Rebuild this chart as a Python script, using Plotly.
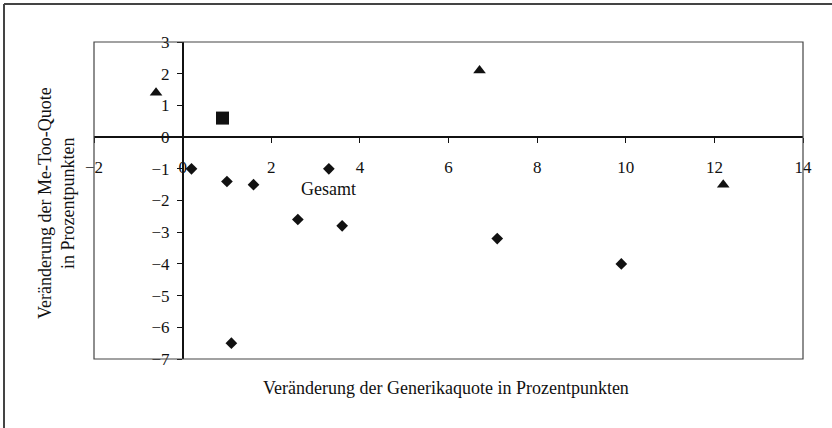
import plotly.graph_objects as go

# Change in generic share (x) vs. change in me-too share (y), percentage points
einzel_x = [0.2, 1.0, 1.6, 3.3, 2.6, 3.6, 1.1, 7.1, 9.9]
einzel_y = [-1.0, -1.4, -1.5, -1.0, -2.6, -2.8, -6.5, -3.2, -4.0]

gruppe_x = [-0.6, 6.7, 12.2]
gruppe_y = [1.4, 2.1, -1.5]

gesamt_x = [0.9]
gesamt_y = [0.6]

x_range = [-2, 14]
y_range = [-7, 3]

FONT = "Liberation Serif, Times New Roman, serif"
INK = "#111111"

fig = go.Figure()
fig.add_trace(go.Scatter(x=einzel_x, y=einzel_y, mode="markers",
                         marker=dict(symbol="diamond", size=9, color=INK,
                                     line=dict(width=0))))
fig.add_trace(go.Scatter(x=gruppe_x, y=gruppe_y, mode="markers",
                         marker=dict(symbol="triangle-up", size=11, color=INK,
                                     line=dict(width=0))))
fig.add_trace(go.Scatter(x=gesamt_x, y=gesamt_y, mode="markers",
                         marker=dict(symbol="square", size=13, color=INK,
                                     line=dict(width=0))))

# axes cross at the origin
x_pos = (0 - y_range[0]) / (y_range[1] - y_range[0])
y_pos = (0 - x_range[0]) / (x_range[1] - x_range[0])

fig.update_layout(
    width=832, height=428,
    margin=dict(l=94, r=29, t=42, b=69),
    paper_bgcolor="white", plot_bgcolor="white",
    showlegend=False,
    font=dict(family=FONT, size=17, color=INK),
    xaxis=dict(range=x_range, dtick=2, tick0=0, showgrid=False, zeroline=False,
               anchor="free", position=x_pos,
               showline=True, linecolor=INK, linewidth=1.5,
               ticks="outside", ticklen=5, tickcolor=INK, tickwidth=1,
               ticklabelstandoff=10,
               tickfont=dict(family=FONT, size=17, color=INK)),
    yaxis=dict(range=y_range, dtick=1, tick0=0, showgrid=False, zeroline=False,
               anchor="free", position=y_pos,
               showline=True, linecolor=INK, linewidth=1.5,
               ticks="outside", ticklen=5, tickcolor=INK, tickwidth=1,
               ticklabelstandoff=4,
               tickfont=dict(family=FONT, size=17, color=INK)),
    shapes=[
        # plot area frame
        dict(type="rect", xref="paper", yref="paper", x0=0, y0=0, x1=1, y1=1,
             line=dict(color="#444444", width=1.2)),
        # outer chart frame (left and top edges)
        dict(type="line", xref="paper", yref="paper",
             x0=(4 - 94) / 709, x1=(4 - 94) / 709, y0=(359 - 430) / 317, y1=(359 - 4) / 317,
             line=dict(color="#444444", width=2)),
        dict(type="line", xref="paper", yref="paper",
             x0=(4 - 94) / 709, x1=(834 - 94) / 709, y0=(359 - 4) / 317, y1=(359 - 4) / 317,
             line=dict(color="#444444", width=2)),
    ],
    annotations=[
        dict(text="Gesamt", x=3.3, y=-1.64, xref="x", yref="y", showarrow=False,
             font=dict(family=FONT, size=18, color=INK)),
        dict(text="Veränderung der Generikaquote in Prozentpunkten",
             x=(446 - 94) / 709, y=(359 - 388) / 317, xref="paper", yref="paper",
             showarrow=False, xanchor="center", yanchor="middle",
             font=dict(family=FONT, size=18, color=INK)),
        dict(text="Veränderung der Me-Too-Quote<br>in Prozentpunkten",
             x=(57 - 94) / 709, y=(359 - 203) / 317, xref="paper", yref="paper",
             showarrow=False, xanchor="center", yanchor="middle", textangle=-90,
             font=dict(family=FONT, size=18, color=INK)),
    ],
)

fig.write_html("out.html")
